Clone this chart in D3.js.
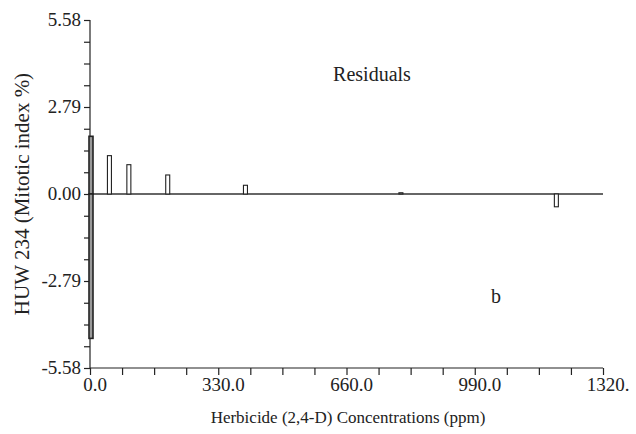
<!DOCTYPE html>
<html>
 <head>
  <meta charset="UTF-8">
  <title>Residuals</title>
  <style>
    body { margin: 0; background: #fff; }
    text { font-family: "Liberation Serif", "DejaVu Serif", serif; fill: #222; }
  </style>
 </head>
 <body>
<div id="viz-wrapper"></div>
 <script src="https://d3js.org/d3.v7.min.js" charset="utf-8"></script>
 <script type="text/javascript">
    // residual values
    var doses = [0, 0, 50, 100, 200, 400, 800, 1200];
    var residuals = [1.85, -4.63, 1.23, 0.94, 0.61, 0.28, 0.04, -0.41];

    var xTicks = [0, 330, 660, 990, 1320];
    var xTickLabels = ["0.0", "330.0", "660.0", "990.0", "1320."];
    var yTicks = [-5.58, -2.79, 0, 2.79, 5.58];
    var yTickLabels = ["-5.58", "-2.79", "0.00", "2.79", "5.58"];

    var width = 636, height = 434;
    var plotLeft = 90, plotRight = 603, plotTop = 20, plotBottom = 368;

    var svg = d3.select("#viz-wrapper")
                .append("svg")
                .attr("width", width)
                .attr("height", height);

    var x = d3.scaleLinear().domain([0, 1320]).range([plotLeft, plotRight]);
    var y = d3.scaleLinear().domain([-5.58, 5.58]).range([plotBottom, plotTop]);

    // minor ticks: 16 steps along each axis
    var xMinor = d3.range(0, 17).map(function(i) { return i * 1320 / 16; });
    var yMinor = d3.range(0, 17).map(function(i) { return -5.58 + i * 11.16 / 16; });

    // x axis
    var xAxis = svg.append("g")
        .attr("transform", "translate(0," + plotBottom + ")")
        .call(d3.axisBottom(x).tickValues(xMinor).tickSize(7).tickFormat(""));
    xAxis.selectAll("line, path").attr("stroke", "#222").attr("stroke-width", 1.2);
    xAxis.select(".domain").attr("d", "M" + plotLeft + ",0H" + plotRight);

    svg.append("g").selectAll("text")
        .data(xTicks)
        .enter().append("text")
        .attr("x", function(d) { return x(d) + 5; })
        .attr("y", plotBottom + 23)
        .attr("text-anchor", "middle")
        .style("font-size", "19px")
        .text(function(d, i) { return xTickLabels[i]; });

    // y axis
    var yAxis = svg.append("g")
        .attr("transform", "translate(" + plotLeft + ",0)")
        .call(d3.axisLeft(y).tickValues(yMinor).tickSize(6).tickFormat(""));
    yAxis.selectAll("line, path").attr("stroke", "#222").attr("stroke-width", 1.2);
    yAxis.select(".domain").attr("d", "M0," + plotTop + "V" + plotBottom);

    svg.append("g").selectAll("text")
        .data(yTicks)
        .enter().append("text")
        .attr("x", plotLeft - 9)
        .attr("y", function(d) { return y(d) + 6; })
        .attr("text-anchor", "end")
        .style("font-size", "19px")
        .text(function(d, i) { return yTickLabels[i]; });

    // zero line
    svg.append("line")
        .attr("x1", x(0)).attr("x2", x(1320))
        .attr("y1", y(0)).attr("y2", y(0))
        .attr("stroke", "#333")
        .attr("stroke-width", 1.5);

    // residual bars
    var barW = 4;
    svg.append("g").selectAll("rect")
        .data(residuals)
        .enter().append("rect")
        .attr("x", function(d, i) { return x(doses[i]) - barW / 2 + (doses[i] === 0 ? 1 : 0); })
        .attr("y", function(d) { return d > 0 ? y(d) : y(0); })
        .attr("width", barW)
        .attr("height", function(d) { return Math.abs(y(d) - y(0)); })
        .attr("fill", function(d, i) { return doses[i] === 0 ? "#999" : "#fff"; })
        .attr("stroke", "#222")
        .attr("stroke-width", function(d, i) { return doses[i] === 0 ? 1.6 : 1.1; });

    // texts
    svg.append("text")
        .attr("x", 372).attr("y", 81)
        .attr("text-anchor", "middle")
        .style("font-size", "20px")
        .text("Residuals");

    svg.append("text")
        .attr("x", 496).attr("y", 303)
        .attr("text-anchor", "middle")
        .style("font-size", "20px")
        .text("b");

    svg.append("text")
        .attr("transform", "translate(29," + (plotTop + plotBottom) / 2 + ") rotate(-90)")
        .attr("text-anchor", "middle")
        .style("font-size", "21px")
        .text("HUW 234 (Mitotic index %)");

    svg.append("text")
        .attr("x", 348).attr("y", 423)
        .attr("text-anchor", "middle")
        .style("font-size", "17px")
        .text("Herbicide (2,4-D) Concentrations (ppm)");
 </script>
 </body>
</html>
